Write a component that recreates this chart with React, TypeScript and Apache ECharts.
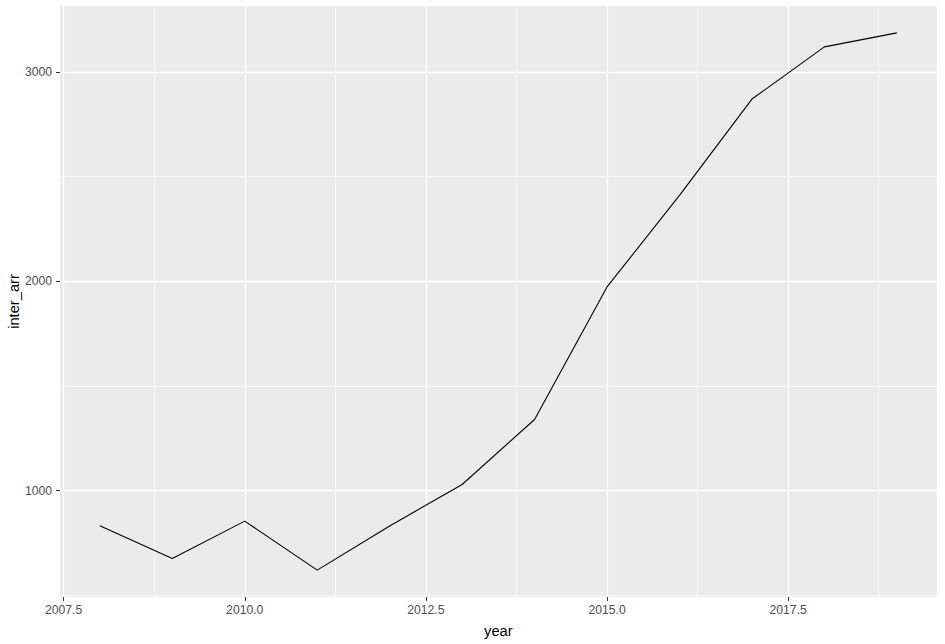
import React, { useEffect, useRef } from "react";
import * as echarts from "echarts";

const years = [2008, 2009, 2010, 2011, 2012, 2013, 2014, 2015, 2016, 2017, 2018, 2019];
const interArr = [833, 677, 855, 621, 832, 1030, 1340, 1973, 2410, 2870, 3119, 3186];
const xTicks = [2007.5, 2010, 2012.5, 2015, 2017.5];
const xMinor = [2008.75, 2011.25, 2013.75, 2016.25, 2018.75];
const yTicks = [1000, 2000, 3000];
const yMinor = [500, 1500, 2500];

const FONT = "Liberation Sans, Arial, sans-serif";

export default function App() {
  const ref = useRef<HTMLDivElement>(null);
  useEffect(() => {
    if (!ref.current) return;
    const chart = echarts.init(ref.current, undefined, { renderer: "svg" });
    const xr = Math.max(...years) - Math.min(...years);
    const xMin = Math.min(...years) - 0.05 * xr;
    const xMax = Math.max(...years) + 0.05 * xr;
    const yLo = Math.min(...interArr);
    const yHi = Math.max(...interArr);
    const yr = yHi - yLo;
    const yMin = yLo - 0.05 * yr;
    const yMax = yHi + 0.05 * yr;

    const gridLines = [
      ...xMinor.map((v) => ({ xAxis: v, lineStyle: { width: 0.7 } })),
      ...yMinor.map((v) => ({ yAxis: v, lineStyle: { width: 0.7 } })),
      ...xTicks.map((v) => ({ xAxis: v, lineStyle: { width: 1.4 } })),
      ...yTicks.map((v) => ({ yAxis: v, lineStyle: { width: 1.4 } })),
    ];

    const tickStyle = { show: true, length: 4, inside: false, lineStyle: { color: "#333333", width: 1 } };
    const labelStyle = { color: "#4D4D4D", fontSize: 12.2, fontFamily: FONT };
    const nameStyle = { color: "#000000", fontSize: 14.7, fontFamily: FONT };

    chart.setOption({
      animation: false,
      grid: {
        left: 60,
        right: 8.3,
        top: 6,
        bottom: 47,
        show: true,
        backgroundColor: "#EBEBEB",
        borderWidth: 0,
        containLabel: false,
        outerBoundsMode: "none",
      },
      xAxis: {
        type: "value",
        min: xMin,
        max: xMax,
        name: "year",
        nameLocation: "middle",
        nameGap: 26,
        nameMoveOverlap: false,
        nameTextStyle: nameStyle,
        axisLine: { show: false },
        axisTick: { ...tickStyle, customValues: xTicks },
        axisLabel: {
          ...labelStyle,
          margin: 7,
          customValues: xTicks,
          formatter: (v: number) => v.toFixed(1),
        },
        splitLine: { show: false },
      },
      yAxis: {
        type: "value",
        min: yMin,
        max: yMax,
        name: "inter_arr",
        nameLocation: "middle",
        nameGap: 39,
        nameRotate: 90,
        nameMoveOverlap: false,
        nameTextStyle: nameStyle,
        axisLine: { show: false },
        axisTick: { ...tickStyle, customValues: yTicks },
        axisLabel: {
          ...labelStyle,
          margin: 8,
          customValues: yTicks,
          formatter: (v: number) => String(Math.round(v)),
        },
        splitLine: { show: false },
      },
      series: [
        {
          type: "line",
          z: 1,
          silent: true,
          data: years.map((y, i) => [y, interArr[i]]),
          showSymbol: false,
          lineStyle: { opacity: 0 },
          markLine: {
            z: 1,
            silent: true,
            symbol: ["none", "none"],
            label: { show: false },
            emphasis: { disabled: true },
            lineStyle: { color: "#FFFFFF", type: "solid" },
            data: gridLines,
          },
        },
        {
          type: "line",
          z: 10,
          silent: true,
          data: years.map((y, i) => [y, interArr[i]]),
          showSymbol: false,
          lineStyle: { color: "#000000", width: 1.1 },
        },
      ],
    });
    return () => chart.dispose();
  }, []);
  return (
    <div
      ref={ref}
      style={{ position: "absolute", left: 0, top: 0, width: 945, height: 644, background: "#FFFFFF" }}
    />
  );
}
